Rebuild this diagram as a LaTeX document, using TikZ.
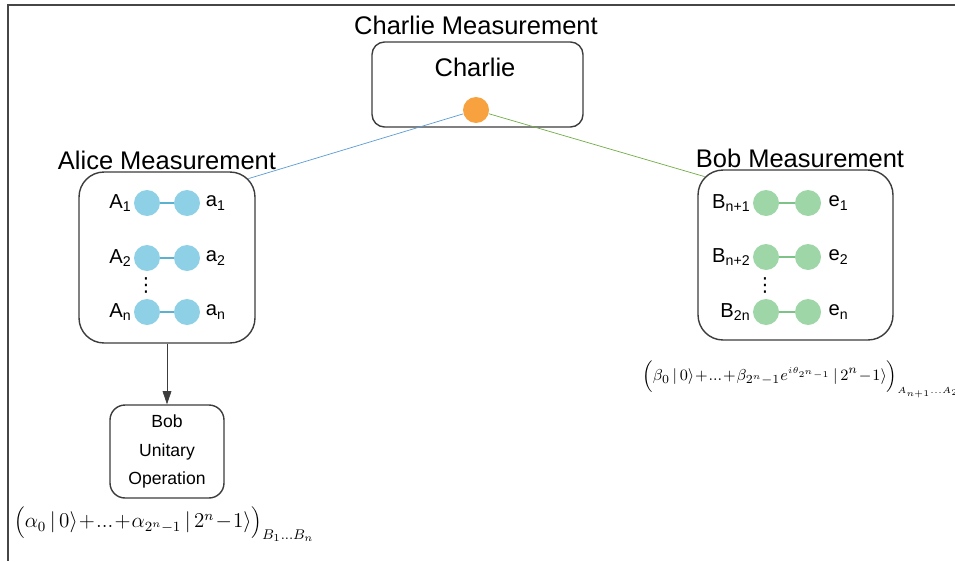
\documentclass[tikz,border=0pt]{standalone}
\usepackage{fontspec}
\setmainfont{Liberation Sans}
\newfontfamily\dotsfont{DejaVu Sans}
\usetikzlibrary{arrows.meta,positioning,calc}
\definecolor{framegray}{RGB}{70,70,70}
\definecolor{boxgray}{RGB}{60,60,60}
\definecolor{alicedot}{RGB}{142,208,230}
\definecolor{alicelink}{RGB}{91,178,208}
\definecolor{bobdot}{RGB}{158,214,168}
\definecolor{boblink}{RGB}{125,194,135}
\definecolor{charliedot}{RGB}{247,162,62}
\definecolor{bluewire}{RGB}{91,155,213}
\definecolor{greenwire}{RGB}{112,173,71}
\newcommand\tightops{\medmuskip=1mu\relax\thickmuskip=2mu\relax}

\begin{document}
\begin{tikzpicture}[x=0.02cm, y=-0.02cm, >={Triangle[length=7.5pt,width=5pt]},
  party/.style={draw=boxgray, thick, rounded corners=0.5cm, inner sep=0pt},
  qdot/.style={circle, minimum size=0.52cm, inner sep=0pt},
  headtxt/.style={font=\fontsize{14.5}{17}\selectfont, inner sep=1pt},
  tag/.style={font=\fontsize{11.5}{13}\selectfont, inner sep=1pt},
  morerows/.style={inner sep=0pt, font=\dotsfont\fontsize{11}{11}\selectfont},
  ket/.style={anchor=west, inner sep=0pt, font=\fontsize{11.5}{14}\selectfont}]
\useasboundingbox (0,0) rectangle (955,561);
\draw[framegray, line width=1.2pt] (955,5) -- (8,5) -- (8,561);

% Charlie
\node[headtxt] (chT) at (476,25) {Charlie Measurement};
\node[party, rounded corners=0.25cm, minimum width=4.22cm, minimum height=1.7cm] (ch) at (477.5,84.5) {};
\node[headtxt] (chN) at (475,67) {Charlie};

% Alice
\node[headtxt] (aliT) at (167,160) {Alice Measurement};
\node[party, minimum width=3.52cm, minimum height=3.42cm] (ali) at (167,257.5) {};
\foreach \i/\y in {1/203,2/258,n/312}{
  \node[qdot, fill=alicedot] (aL\i) at (147,\y) {};
  \node[qdot, fill=alicedot] (aR\i) at (187,\y) {};
  \draw[alicelink, thick] (aL\i) -- (aR\i);
  \node[tag, left=0pt of aL\i] (aLab\i) {A\textsubscript{\i}};
  \node[tag, right=2pt of aR\i] (aRab\i) {a\textsubscript{\i}};
}
\node[morerows] (aVd) at (146,285) {⋮};

% Bob
\node[headtxt] (bobT) at (800,158) {Bob Measurement};
\node[party, minimum width=3.9cm, minimum height=3.4cm] (bob) at (795.5,255) {};
\foreach \i/\y/\b/\e in {1/203/n+1/1,2/257/n+2/2,3/312/2n/n}{
  \node[qdot, fill=bobdot] (bL\i) at (766,\y) {};
  \node[qdot, fill=bobdot] (bR\i) at (808,\y) {};
  \draw[boblink, thick] (bL\i) -- (bR\i);
  \node[tag, left=0pt of bL\i] (bLab\i) {B\textsubscript{\b}};
  \node[tag, right=3pt of bR\i] (bRab\i) {e\textsubscript{\e}};
}
\node[morerows] (bVd) at (765,285) {⋮};

% Bob unitary
\node[party, rounded corners=0.3cm, minimum width=2.28cm, minimum height=1.86cm,
  align=center, font=\fontsize{10}{16}\selectfont] (bu) at (167,451.5) {Bob\\Unitary\\Operation};
\draw[->, boxgray] (ali) -- (bu);

% wires to Charlie
\coordinate (aliC) at ($(ali.north east)+(-7.3,7.3)$);
\coordinate (bobC) at ($(bob.north west)+(7.3,7.3)$);
\node[qdot, fill=charliedot] (cdot) at (476,110) {};
\draw[bluewire] (cdot) -- (aliC);
\draw[greenwire] (cdot) -- (bobC);

% states
\node[ket] (aEq) at (14,524)
  {$\tightops\Bigl(\alpha_0\,|\,0\rangle+...+\alpha_{2^n-1}\,|\,2^n-1\rangle\Bigr)_{B_1...B_n}$};
\node[ket, font=\fontsize{9.5}{12}\selectfont] (bEq) at (642,379)
  {$\tightops\Bigl(\beta_0\,|\,0\rangle+...+\beta_{2^n-1}e^{\scriptscriptstyle i\theta_{2^n-1}}\,|\,2^n-1\rangle\Bigr)_{\scriptscriptstyle A_{n+1}...A_{2n}}$};
\end{tikzpicture}
\end{document}
